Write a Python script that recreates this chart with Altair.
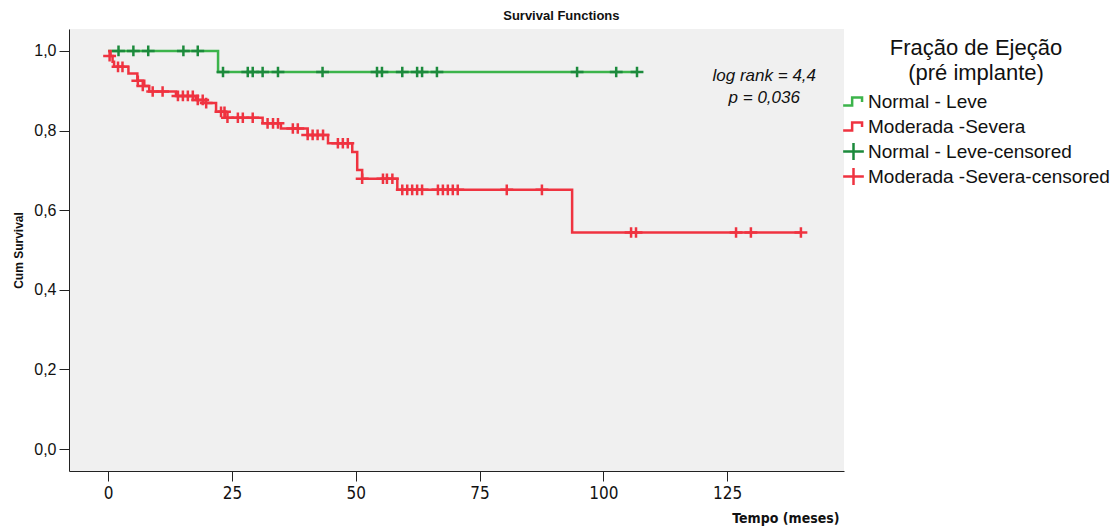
import altair as alt
import pandas as pd

# ---- data ----
green_name = "Normal - Leve"
red_name = "Moderada -Severa"
green_cens_name = "Normal - Leve-censored"
red_cens_name = "Moderada -Severa-censored"

green_step_t = [0, 22.2, 106.8]
green_step_s = [1.0, 0.947, 0.947]

green_cens_t = [2.1, 5.1, 8.1, 15.2, 18.1,
                23.2, 28.2, 29.2, 31.2, 34.3, 43.3, 54.3, 55.3, 59.4, 62.4, 63.4, 66.4,
                94.7, 102.6, 106.8]
green_cens_s = [1.0, 1.0, 1.0, 1.0, 1.0,
                0.947, 0.947, 0.947, 0.947, 0.947, 0.947, 0.947, 0.947, 0.947, 0.947, 0.947, 0.947,
                0.947, 0.947, 0.947]

red_step_t = [0, 0.5, 0.9, 1.2, 4.1, 5.9, 7.3, 8.3, 13.7, 17.7, 19.7, 21.8, 23.6,
              31.2, 34.9, 40.3, 44.4, 49.3, 50.3, 51.3, 58.4, 93.7, 139.9]
red_step_s = [1.0, 0.987, 0.973, 0.960, 0.943, 0.925, 0.912, 0.898, 0.887, 0.877, 0.869, 0.847, 0.832,
              0.818, 0.805, 0.789, 0.768, 0.746, 0.701, 0.679, 0.651, 0.544, 0.544]

red_cens_t = [0.3, 2.0, 2.9, 6.0, 7.0, 9.0, 11.0,
              14.1, 15.1, 16.1, 17.1, 18.1, 19.1, 19.8,
              22.8, 23.5, 24.1, 26.2, 27.2, 29.2,
              32.2, 33.3, 34.3, 37.3, 38.3,
              40.3, 41.3, 42.3, 43.4, 46.4, 47.4, 48.4,
              51.3, 55.5, 56.3, 57.4,
              59.4, 60.4, 61.4, 62.4, 63.4, 66.6, 67.6, 68.6, 69.6, 70.6, 80.5, 87.6,
              105.6, 106.6, 126.8, 129.8, 139.9]
red_cens_s = [0.987, 0.960, 0.960, 0.925, 0.912, 0.898, 0.898,
              0.887, 0.887, 0.887, 0.887, 0.877, 0.877, 0.869,
              0.847, 0.847, 0.832, 0.832, 0.832, 0.832,
              0.818, 0.818, 0.818, 0.805, 0.805,
              0.789, 0.789, 0.789, 0.789, 0.768, 0.768, 0.768,
              0.679, 0.679, 0.679, 0.679,
              0.651, 0.651, 0.651, 0.651, 0.651, 0.651, 0.651, 0.651, 0.651, 0.651, 0.651, 0.651,
              0.544, 0.544, 0.544, 0.544, 0.544]

x_ticks = [0, 25, 50, 75, 100, 125]
y_ticks = [0.0, 0.2, 0.4, 0.6, 0.8, 1.0]

annot_text = ["log rank = 4,4", "p = 0,036"]
annot_t = [132.5, 132.5]
annot_s = [0.937, 0.882]

# ---- styling ----
series = [green_name, red_name, green_cens_name, red_cens_name]
colors = ["#3cb44b", "#ef3340", "#1c8a3c", "#ef3340"]
# the leading moves give every legend symbol the same vertical extent
step_path = "M-1.15,-1M-1.15,1M-1.15,0.45L-0.15,0.45L-0.15,-0.45L0.95,-0.45L0.95,0.05"
cross_path = "M-1,-1M-1,1M-1.15,0L1.15,0M0,-0.95L0,0.95"
shapes = [step_path, step_path, cross_path, cross_path]
FONT = "Liberation Sans"
NARROW = "'Liberation Sans Narrow', 'DejaVu Sans Condensed', 'Liberation Sans', sans-serif"

lines_df = pd.concat([
    pd.DataFrame({"t": green_step_t, "s": green_step_s, "serie": green_name}),
    pd.DataFrame({"t": red_step_t, "s": red_step_s, "serie": red_name}),
])
cens_df = pd.concat([
    pd.DataFrame({"t": green_cens_t, "s": green_cens_s, "serie": green_cens_name}),
    pd.DataFrame({"t": red_cens_t, "s": red_cens_s, "serie": red_cens_name}),
])
annot_df = pd.DataFrame({"t": annot_t, "s": annot_s, "label": annot_text})

color_scale = alt.Scale(domain=series, range=colors)
shape_scale = alt.Scale(domain=series, range=shapes)

x_enc = alt.X("t:Q", scale=alt.Scale(domain=[-7.9, 148.6], nice=False, zero=False),
              axis=alt.Axis(values=x_ticks, title="Tempo (meses)", grid=False,
                            labelFont=NARROW, labelFontSize=17,
                            titleFont=NARROW, titleFontSize=14,
                            titleFontWeight="bold", titleX=770, titleAlign="right",
                            titlePadding=10, tickSize=10, labelPadding=4,
                            domainColor="#222", tickColor="#222", labelColor="#111",
                            titleColor="#111"))
y_enc = alt.Y("s:Q", scale=alt.Scale(domain=[-0.055, 1.055], nice=False, zero=False),
              axis=alt.Axis(values=y_ticks, title="Cum Survival", grid=False,
                            labelExpr="replace(format(datum.value, '.1f'), '.', ',')",
                            labelFont=FONT, labelFontSize=16, titleFont=FONT, titleFontSize=12,
                            titleFontWeight="bold", titlePadding=8, tickSize=10, labelPadding=3,
                            domainColor="#222", tickColor="#222", labelColor="#111",
                            titleColor="#111"))

legend_title = ["Fração de Ejeção", "(pré implante)"]

lines = alt.Chart(lines_df).mark_line(interpolate="step-after", strokeWidth=2.5).encode(
    x=x_enc, y=y_enc,
    color=alt.Color("serie:N", scale=color_scale, legend=None),
    detail="serie:N",
)

cens = alt.Chart(cens_df).mark_point(filled=False, size=125, strokeWidth=2.5, opacity=1).encode(
    x="t:Q", y="s:Q",
    color=alt.Color("serie:N", scale=color_scale, legend=alt.Legend(title=legend_title)),
    shape=alt.Shape("serie:N", scale=shape_scale, legend=alt.Legend(title=legend_title)),
)

annot = alt.Chart(annot_df).mark_text(font=FONT, fontSize=17, fontStyle="italic",
                                      align="center", baseline="middle", color="#111").encode(
    x="t:Q", y="s:Q", text="label:N")

chart = alt.layer(lines, cens, annot).resolve_legend(
    color="independent", shape="independent"
).properties(
    width=775, height=442,
    background="white",
    title=alt.TitleParams("Survival Functions", font=FONT, fontSize=13, fontWeight="bold",
                          anchor="middle", frame="bounds", offset=6, color="#111"),
    padding={"left": 12, "top": 10, "right": 2, "bottom": 2},
).configure_view(fill="#f0f0f0", strokeWidth=0).configure_legend(
    orient="none", legendX=774, legendY=9, padding=0,
    titleFont=FONT, titleFontSize=22, titleFontWeight="normal", titleColor="#111",
    titleAlign="center", titleAnchor="middle", titleLimit=500, titlePadding=6,
    titleLineHeight=25,
    labelFont=FONT, labelFontSize=19, labelColor="#111", labelLimit=500, labelOffset=4,
    symbolSize=324, symbolStrokeWidth=2.5, rowPadding=-4,
)

chart.save("out.html", embed_options={"renderer": "svg", "actions": False})
